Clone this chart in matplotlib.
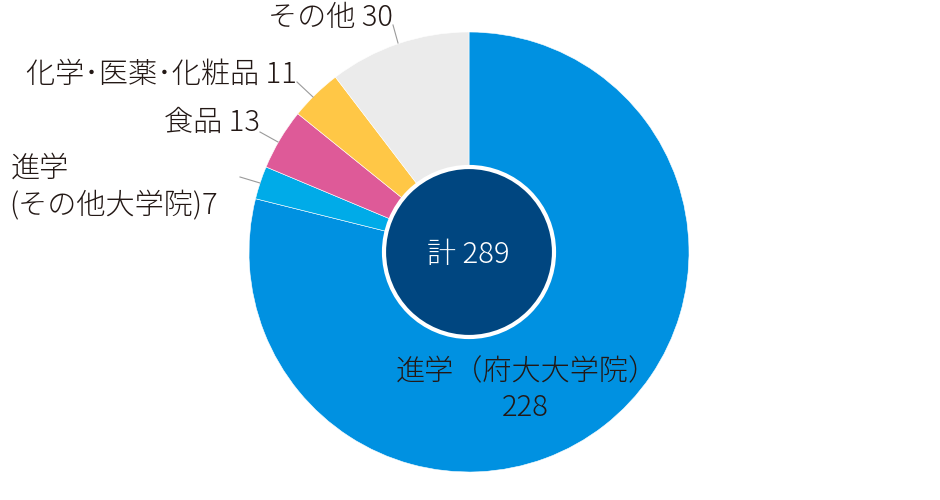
import matplotlib
matplotlib.use("Agg")
import matplotlib.pyplot as plt
from matplotlib.patches import Circle

plt.rcParams['font.family'] = ['Noto Sans CJK JP', 'DejaVu Sans']

# Data
categories = ["進学（府大大学院）", "進学\n(その他大学院)", "食品", "化学･医薬･化粧品", "その他"]
values = [228, 7, 13, 11, 30]
colors = ["#0091E1", "#00ABE8", "#DE5A98", "#FFC746", "#EBEBEB"]
total_label = "計"

W, H = 940, 500
fig = plt.figure(figsize=(W / 100, H / 100), dpi=100)
ax = fig.add_axes([0, 0, 1, 1])

cx, cy, R = 469, H - 252, 220

ax.pie(values, colors=colors, startangle=90, counterclock=False,
       center=(cx, cy), radius=R, frame=True,
       wedgeprops=dict(edgecolor='white', linewidth=0.4))
ax.set_xlim(0, W)
ax.set_ylim(0, H)
ax.set_aspect('equal')
ax.axis('off')

# centre circle
ax.add_patch(Circle((cx, cy), 85, facecolor='#004680', edgecolor='white',
                    linewidth=3, zorder=5))

txt = '#231815'
fs = 21
FW = 'light'
em = fs * 100 / 72.0


def Y(y):
    return H - y


def label(x, yc, s, ha='left', color=txt, zorder=3):
    """yc = visual centre of the glyphs in px from the top."""
    ax.text(x, Y(yc + 0.37 * em), s, fontsize=fs, fontweight=FW, color=color,
            ha=ha, va='baseline', zorder=zorder)


label(468, 252, f"{total_label} {sum(values)}", ha='center', color='white', zorder=6)

# inside label for biggest slice
label(527, 369, categories[0], ha='center')
label(525, 405, str(values[0]), ha='center')

# outside labels: anchor x, centre y of first line, ha ; leader line
outside = {
    1: ((11, 166, 'left'), ((240, 177), (260, 183))),
    2: ((260, 120, 'right'), ((260, 132), (278, 142))),
    3: ((297, 72, 'right'), ((297, 82), (313, 97))),
    4: ((393, 15, 'right'), ((393, 25), (398, 43))),
}
for i, ((tx, ty, ha), ((x0, y0), (x1, y1))) in outside.items():
    lines = categories[i].split('\n')
    if len(lines) == 1:
        label(tx, ty, f"{lines[0]} {values[i]}", ha=ha)
    else:
        label(tx, ty, lines[0], ha=ha)
        label(tx - 2, ty + 38, f"{lines[1]}{values[i]}", ha=ha)
    ax.plot([x0, x1], [Y(y0), Y(y1)], color='#9a9a9a', linewidth=0.8)

fig.savefig('out.png', dpi=100, facecolor='white')
